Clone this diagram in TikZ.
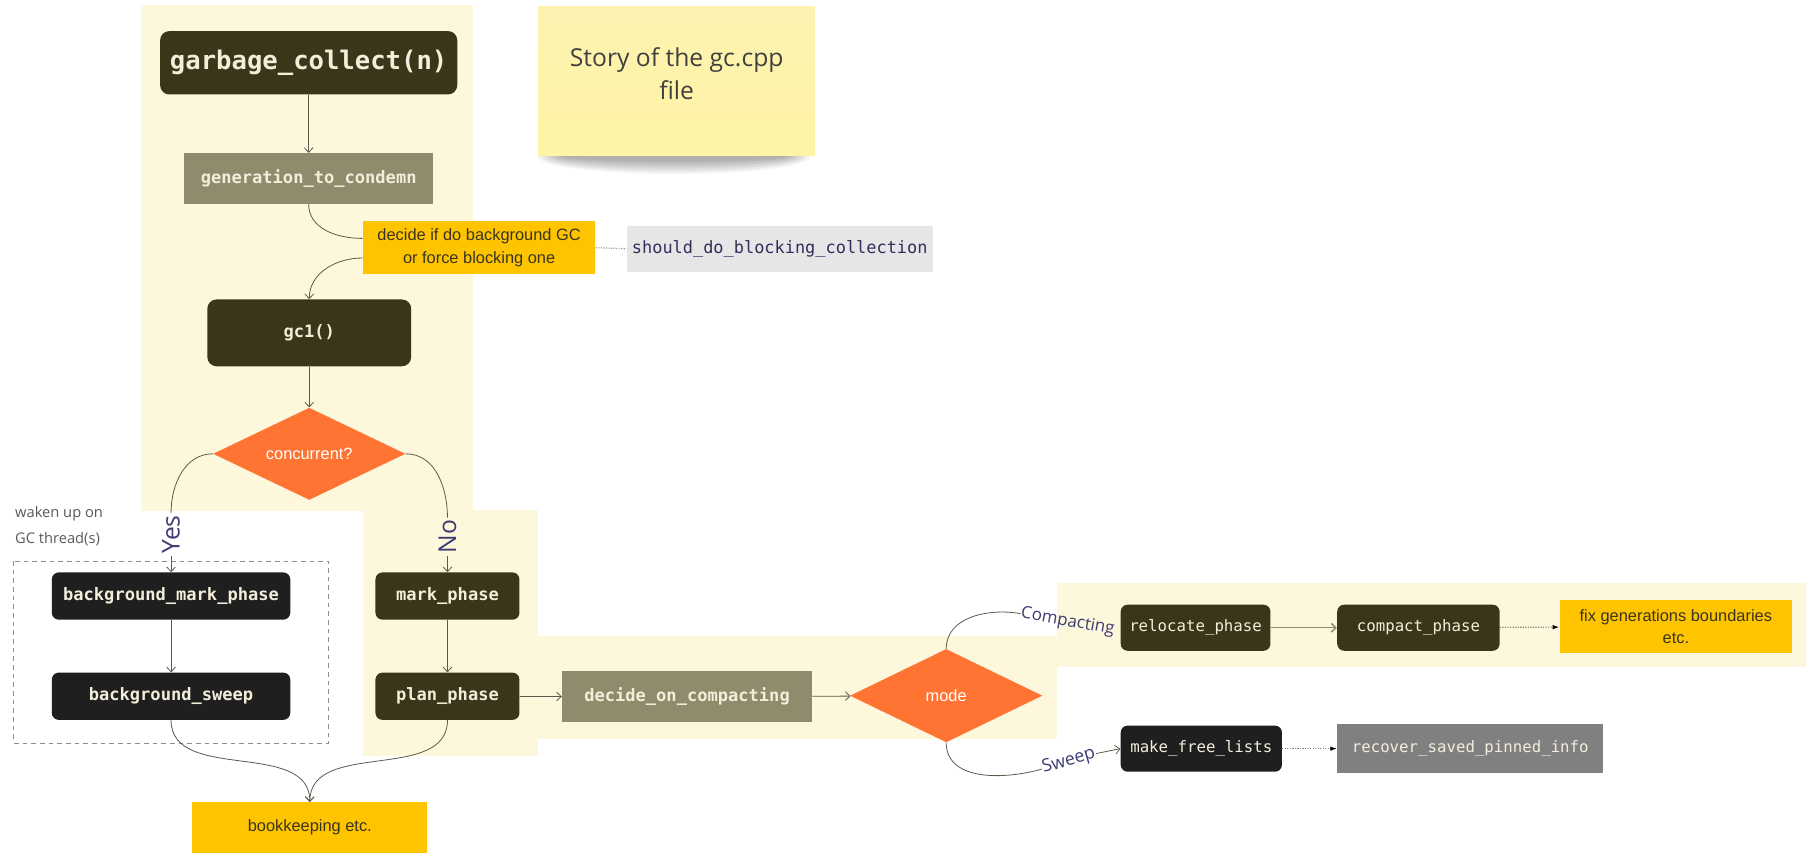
\documentclass[tikz,border=0pt]{standalone}
\usepackage{fontspec}
\setmainfont{Liberation Sans}
\newfontfamily\monof{DejaVu Sans Mono}
\newfontfamily\opensans{Open Sans}
\usetikzlibrary{arrows.meta,shapes.geometric}
\definecolor{cream}{HTML}{FDF7DC}
\definecolor{olivec}{HTML}{3B3519}
\definecolor{blackbox}{HTML}{1F1F1F}
\definecolor{grayolive}{HTML}{918B6D}
\definecolor{yellowc}{HTML}{FFC400}
\definecolor{orangec}{HTML}{FF7433}
\definecolor{lightg}{HTML}{E6E6E6}
\definecolor{midg}{HTML}{808080}
\definecolor{navyc}{HTML}{3D3B73}
\definecolor{linecol}{HTML}{5B5A4C}
\definecolor{monotext}{HTML}{F3EEDB}
\definecolor{darktext}{HTML}{3A3520}
\definecolor{stickyc}{HTML}{FEF4A4}
\definecolor{stickytop}{HTML}{FDF2B0}
\newlength\uu \setlength\uu{0.8638pt}
\newcommand\monob{\monof\bfseries\fontsize{12.8}{15}\selectfont}
\newcommand\monor{\monof\fontsize{11.8}{14}\selectfont}
\newcommand\sansf{\fontsize{12.3}{17}\selectfont}
\begin{document}
\begin{tikzpicture}[x=\uu,y=\uu,
  bw/.style={minimum width=#1\uu},
  bh/.style={minimum height=#1\uu},
  olbox/.style={rectangle, inner sep=0pt, fill=olivec, rounded corners=6\uu, text=monotext, font=\monob},
  blbox/.style={rectangle, inner sep=0pt, fill=blackbox, rounded corners=6\uu, text=monotext, font=\monob},
  gobox/.style={rectangle, inner sep=0pt, fill=grayolive, text=monotext, font=\monob},
  yebox/.style={rectangle, inner sep=0pt, fill=yellowc, text=darktext, font=\sansf, align=center},
  dia/.style={diamond, aspect=2, inner sep=0pt, fill=orangec, text=white, font=\sansf},
  conn/.style={draw=linecol, line width=0.6pt},
  arr/.style={conn, -{Straight Barb[length=3.5pt,width=6.5pt]}},
  dotarr/.style={draw=midg, densely dotted, line width=0.9pt, -{Latex[length=5pt,width=3.5pt,color=black]}},
  lab/.style={inner sep=1.5pt, text=navyc, font=\opensans\fontsize{18.5}{20}\selectfont},
  lab2/.style={inner sep=0.5pt, text=navyc, font=\opensans\fontsize{12.7}{14}\selectfont}
]
\useasboundingbox (0,0) rectangle (1568,-741);
\fill[white] (0,0) rectangle (1568,-741);
% cream backgrounds
\fill[cream] (122,-4) rectangle (410.7,-443.5);
\fill[cream] (315,-443) rectangle (467,-656);
\fill[cream] (466.5,-552.6) rectangle (918,-641.5);
\fill[cream] (917.5,-506.4) rectangle (1568,-579);
% sticky note with shadow
\foreach \i in {0,...,7}
  \fill[black,opacity=0.045] (585,-136) ellipse ({118-\i*3} and {15-\i*1.6});
\node[rectangle, inner sep=0pt, top color=stickytop, bottom color=stickyc, bw=240.2, bh=129.6] (note) at (587.5,-70.6) {};
\node[inner sep=0pt, align=center, text=black!75, font=\opensans\fontsize{18.5}{25}\selectfont] (story) at (587.5,-64.2) {Story of the gc.cpp\\file};
% nodes
\node[olbox, bw=258, bh=55, font=\monof\bfseries\fontsize{19.2}{22}\selectfont, rounded corners=8\uu] (gcoll) at (268,-54.5) {garbage\_collect(n)};
\node[gobox, bw=216, bh=44] (gtc) at (268,-155) {generation\_to\_condemn};
\node[yebox, bw=202, bh=46] (decide) at (416,-215) {decide if do background GC\\or force blocking one};
\node[rectangle, inner sep=0pt, fill=lightg, text=navyc!80!black, font=\monof\fontsize{12.7}{15}\selectfont, bw=266, bh=40] (should) at (677,-216) {should\_do\_blocking\_collection};
\node[olbox, bw=177, bh=58, rounded corners=8\uu] (gc1) at (268.5,-289) {gc1()};
\node[dia, bw=167, bh=80] (conc) at (268.5,-394) {concurrent?};
\node[blbox, bw=207, bh=41] (bgmark) at (148.5,-517.5) {background\_mark\_phase};
\node[blbox, bw=207, bh=41] (bgsweep) at (148.5,-604.5) {background\_sweep};
\node[olbox, bw=125, bh=41] (mark) at (388.5,-517.5) {mark\_phase};
\node[olbox, bw=125, bh=41] (plan) at (388.5,-604.5) {plan\_phase};
\node[gobox, bw=217, bh=44] (doc) at (596.5,-605) {decide\_on\_compacting};
\node[dia, bw=167, bh=81] (mode) at (821.5,-604) {mode};
\node[olbox, bw=130, bh=40, font=\monor] (reloc) at (1038,-545) {relocate\_phase};
\node[olbox, bw=141, bh=40, font=\monor] (compact) at (1231.5,-545) {compact\_phase};
\node[yebox, bw=202, bh=46] (fix) at (1455,-544) {fix generations boundaries\\etc.};
\node[blbox, bw=140, bh=40, font=\monor] (mfl) at (1043,-650) {make\_free\_lists};
\node[rectangle, inner sep=0pt, fill=midg, text=monotext, font=\monor, bw=231, bh=42] (recover) at (1276.5,-650) {recover\_saved\_pinned\_info};
\node[yebox, bw=204, bh=44] (book) at (269,-718.5) {bookkeeping etc.};
% group annotations
\draw[draw=black!45, line width=0.6pt, dash pattern=on 3.5pt off 3pt] (12,-487) rectangle (285.5,-645);
\node[anchor=north west, inner sep=0pt, align=left, text=black!65, font=\opensans\fontsize{11}{19.5}\selectfont] (wake) at (13,-439) {waken up on\\GC thread(s)};
% labels on branches
\node[lab, rotate=90] (yes) at (148.5,-464) {Yes};
\node[lab, rotate=90] (no) at (388.5,-466) {No};
\node[lab2, rotate=-10] (cmp) at (927,-540) {Compacting};
\node[lab2, rotate=16, font=\opensans\fontsize{13.3}{14}\selectfont] (swp) at (928,-661) {Sweep};
% connectors
\draw[arr] (gcoll) -- (gtc);
\draw[conn] (gtc.south) to[out=-90,in=180] ([yshift=8\uu]decide.west);
\draw[arr] ([yshift=-9\uu]decide.west) to[out=180,in=90] (gc1.north);
\draw[draw=black!40, densely dotted, line width=0.9pt] (decide.east) -- (should.west);
\draw[arr] (gc1) -- (conc);
\draw[conn] (conc.west) to[out=180,in=90] (yes.east);
\draw[arr] (yes.west) -- (bgmark.north);
\draw[conn] (conc.east) to[out=0,in=90] (no.east);
\draw[arr] (no.west) -- (mark.north);
\draw[arr] (bgmark) -- (bgsweep);
\draw[arr] (mark) -- (plan);
\draw[arr] (bgsweep.south) to[out=-90,in=90] (book.north);
\draw[arr] (plan.south) to[out=-90,in=90] (book.north);
\draw[arr] (plan) -- (doc);
\draw[arr] (doc) -- (mode);
\draw[conn] (mode.north) to[out=90,in=170] (cmp.west);
\draw[conn] (mode.south) to[out=-90,in=196] (swp.west);
\draw[arr] (swp.east) -- (mfl.west);
\draw[arr, draw=grayolive, line width=1.1pt] (reloc) -- (compact);
\draw[dotarr] (compact) -- (fix);
\draw[dotarr] (mfl) -- (recover);
\end{tikzpicture}
\end{document}
